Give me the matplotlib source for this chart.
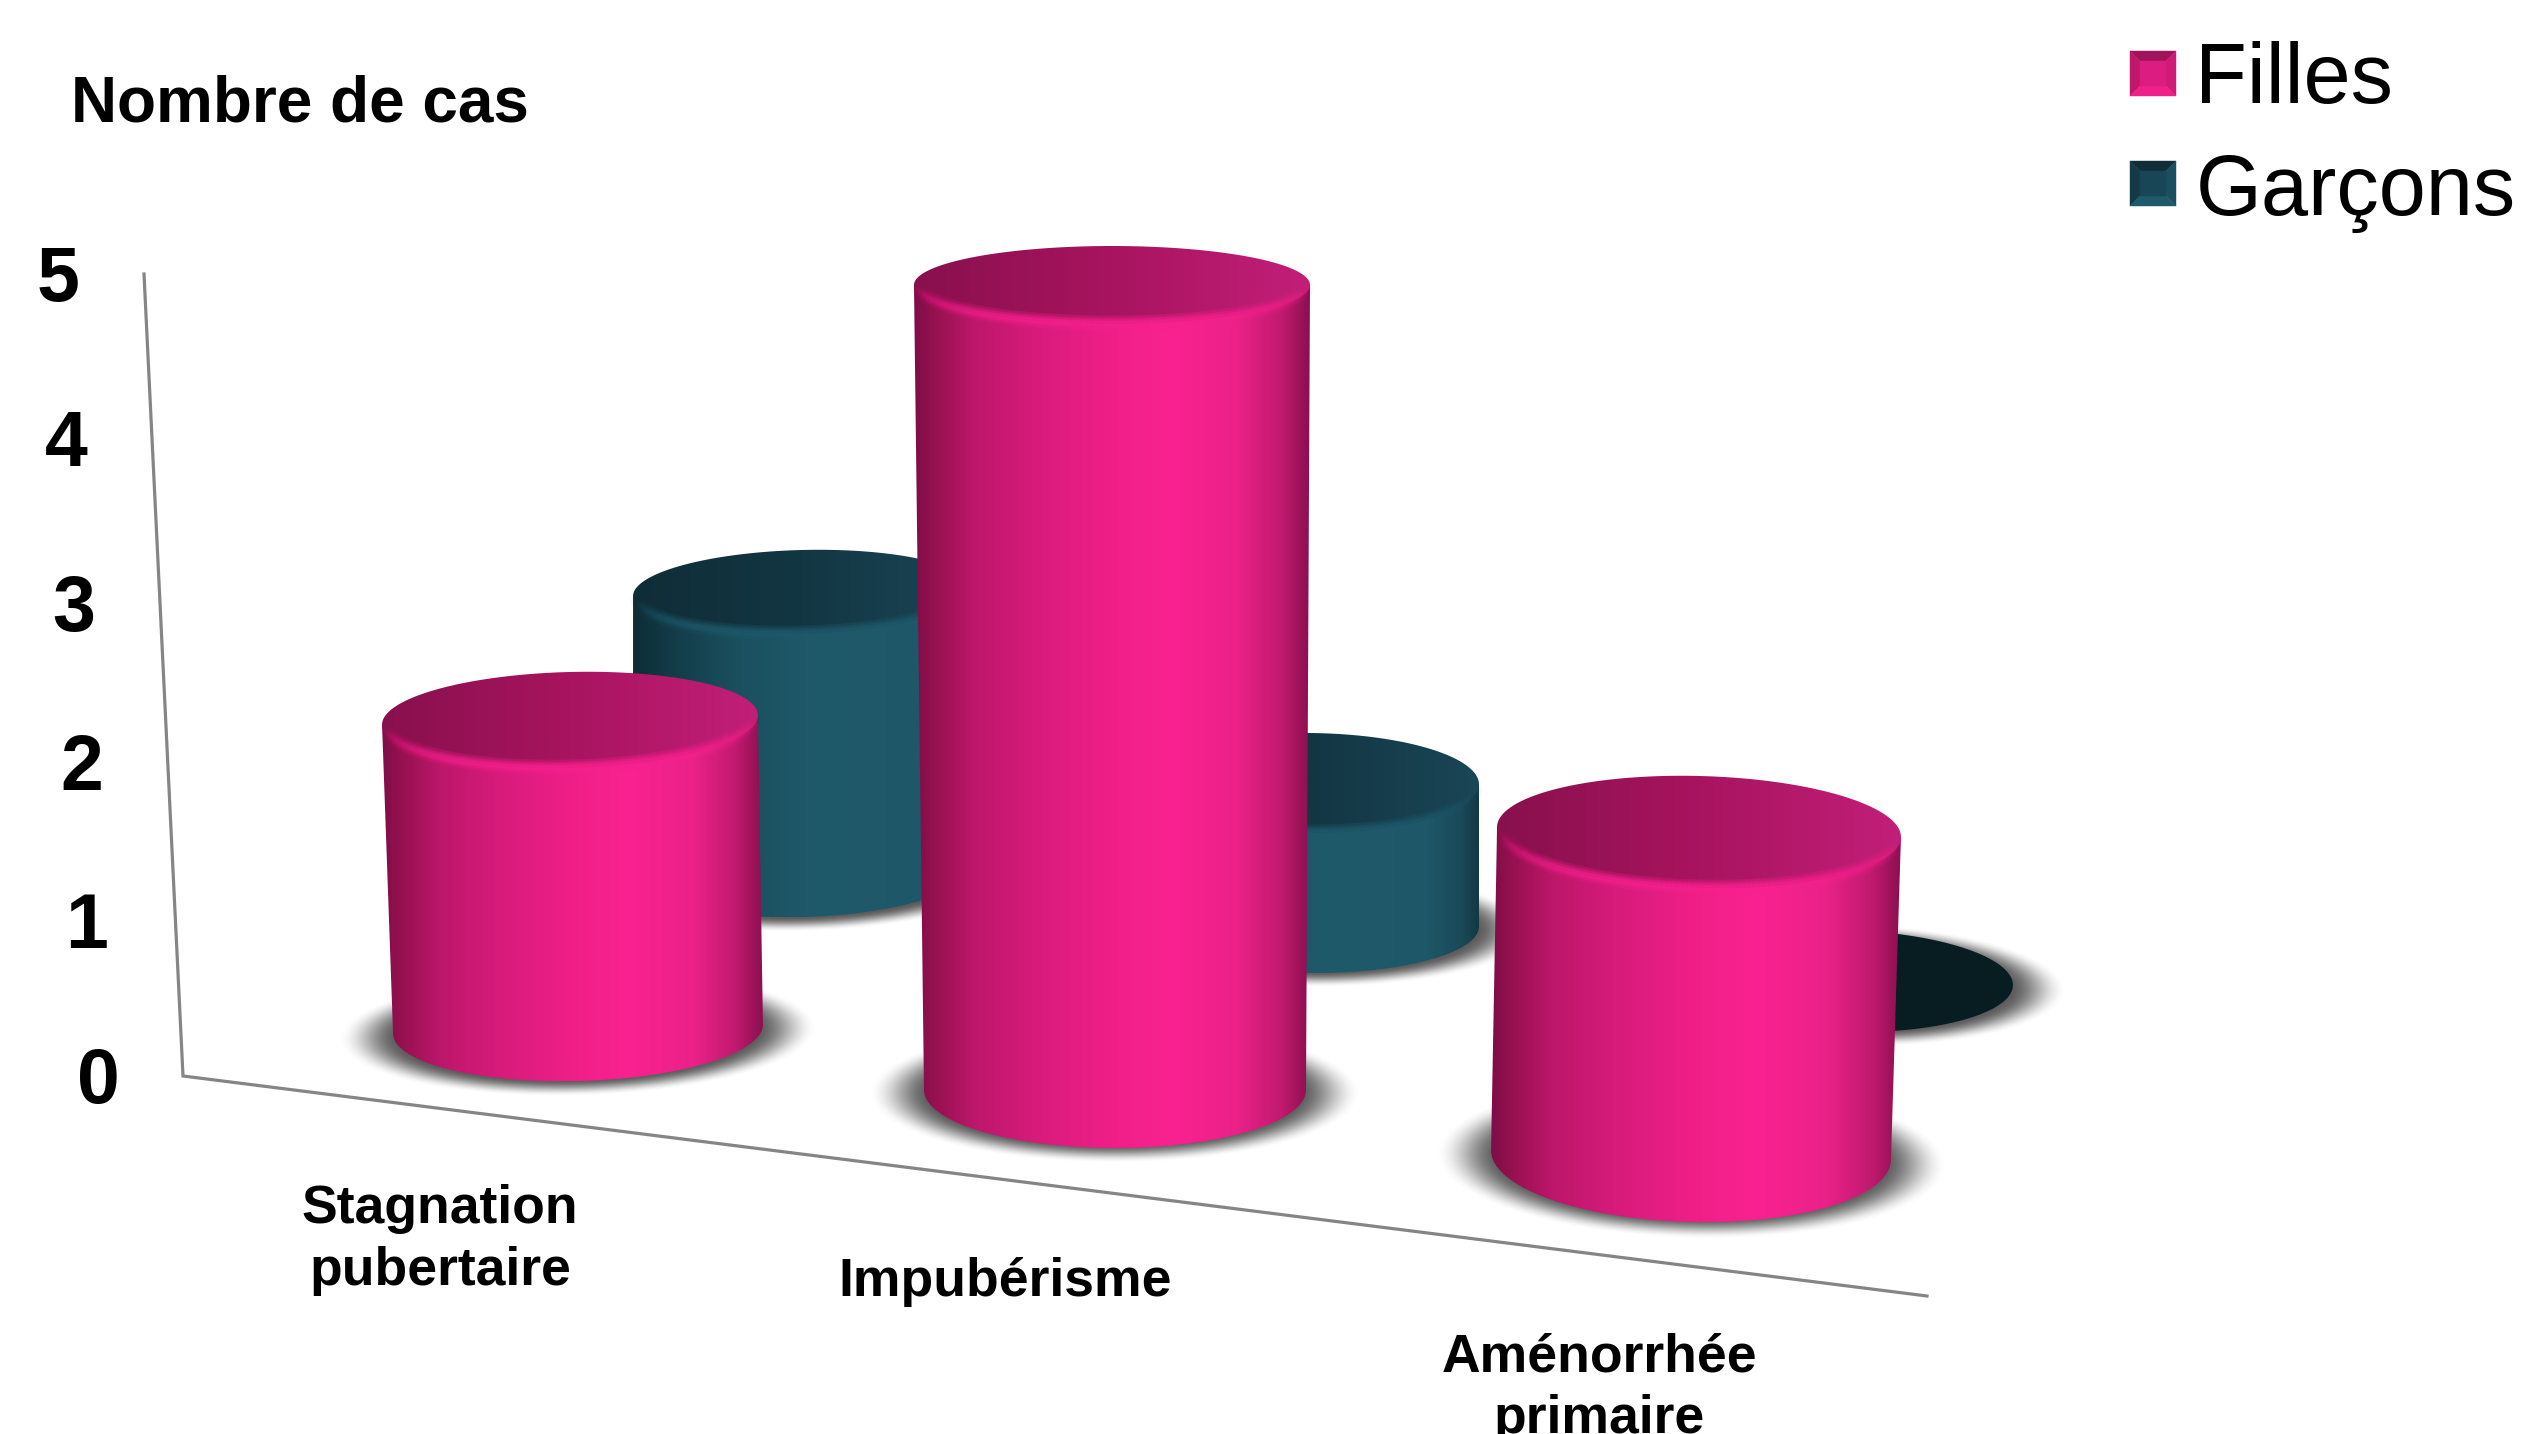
import numpy as np
import matplotlib
matplotlib.use("Agg")
import matplotlib.pyplot as plt
from matplotlib.collections import LineCollection
from matplotlib.colors import LinearSegmentedColormap
from matplotlib.patches import Polygon

plt.rcParams['font.family'] = ['Liberation Sans', 'DejaVu Sans']

categories = ["Stagnation\npubertaire", "Impubérisme", "Aménorrhée\nprimaire"]
filles = [2, 5, 2]
garcons = [2, 1, 0]
y_ticks = [0, 1, 2, 3, 4, 5]
series_names = ["Filles", "Garçons"]

# perspective layout of the floor, in pixels of the 2522x1434 canvas
filles_layout = dict(x=[578, 1115, 1691], y=[1029, 1090, 1155], rx=[185, 191, 200], ry=[52, 58, 67],
                     rx_top=[188, 198, 202], ry_top=[48, 39, 56], tilt=[-1.5, 0, 1.5],
                     unit=[154.5, 161, 161.5], lean=[-8, -3, 8])
garcons_layout = dict(x=[802, 1309, 1843], y=[870, 925, 981], rx=[169, 170, 170], ry=[47, 48, 51],
                      rx_top=[169, 170, 170], ry_top=[42, 50, 51], tilt=[-1.5, 0.5, 1.5],
                      unit=[139, 142, 139], lean=[0, 0, 3])

pink_body = LinearSegmentedColormap.from_list("pink_body", [
    (0, "#7e0d48"), (0.05, "#96114f"), (0.15, "#bc176a"), (0.3, "#d61b7a"), (0.5, "#f01f88"),
    (0.65, "#fa2290"), (0.82, "#ea2188"), (0.93, "#c01a6e"), (1, "#8c1050")])
pink_cap = LinearSegmentedColormap.from_list("pink_cap", ["#88104e", "#a8145f", "#c21f78"])
teal_body = LinearSegmentedColormap.from_list("teal_body", [
    (0, "#0e2c36"), (0.1, "#123a46"), (0.3, "#1a4f5e"), (0.55, "#1f5a6b"), (0.85, "#1e5768"),
    (0.95, "#194a58"), (1, "#123a44")])
teal_cap = LinearSegmentedColormap.from_list("teal_cap", ["#0f2d37", "#133643", "#1a4656"])

fig = plt.figure(figsize=(25.22, 14.34), dpi=100, facecolor="white")
ax = fig.add_axes([0, 0, 1, 1])
ax.axis("off")

z = [3]


def next_z():
    z[0] += 1
    return z[0]


def ellipse_pts(cx, cy, rx, ry, tilt, t):
    a = np.radians(tilt)
    x = cx + rx * np.cos(t) * np.cos(a) - ry * np.sin(t) * np.sin(a)
    y = cy + rx * np.cos(t) * np.sin(a) + ry * np.sin(t) * np.cos(a)
    return np.column_stack([x, y])


def gradient_fill(pts, cmap):
    # horizontal gradient cut to the outline
    grad = np.linspace(0, 1, 256).reshape(1, -1)
    zo = next_z()
    poly = Polygon(pts, closed=True, transform=ax.transData, facecolor="none", edgecolor="none")
    ax.add_patch(poly)
    im = ax.imshow(grad, cmap=cmap, aspect="auto", interpolation="bilinear", zorder=zo,
                   extent=(pts[:, 0].min(), pts[:, 0].max(), pts[:, 1].max(), pts[:, 1].min()))
    im.set_clip_path(poly)


def soft_shadow(cx, cy, rx, ry, tilt):
    xs = np.arange(cx - rx * 1.3, cx + rx * 1.3)
    ys = np.arange(cy - ry * 1.4, cy + ry * 1.4)
    xx, yy = np.meshgrid(xs, ys)
    a = np.radians(tilt)
    u = (xx - cx) * np.cos(a) + (yy - cy) * np.sin(a)
    v = -(xx - cx) * np.sin(a) + (yy - cy) * np.cos(a)
    d = np.sqrt((u / rx) ** 2 + (v / ry) ** 2)
    s = np.clip((1.09 - d) / 0.28, 0, 1)
    s = s * s * (3 - 2 * s)
    rgba = np.zeros(d.shape + (4,))
    rgba[..., :3] = 0.36
    rgba[..., 3] = s
    ax.imshow(rgba, aspect="auto", interpolation="bilinear", zorder=next_z(),
              extent=(xs[0], xs[-1], ys[-1], ys[0]))


def cylinder(value, cx, cy, rx, ry, rx_top, ry_top, tilt, unit, lean, body, cap, rim, flat):
    soft_shadow(cx, cy + 4, rx + 35, ry + 6, tilt)
    if value == 0:
        ax.add_patch(Polygon(ellipse_pts(cx, cy, rx, ry, tilt, np.linspace(0, 2 * np.pi, 200)),
                             facecolor=flat, edgecolor="none", zorder=next_z()))
        return
    top_x = cx + lean
    top_y = cy - value * unit
    t_front = np.linspace(np.pi, 0, 200)
    bottom_arc = ellipse_pts(cx, cy, rx, ry, tilt, t_front)
    left_top = ellipse_pts(top_x, top_y, rx_top, ry_top, tilt, np.array([np.pi]))
    right_top = ellipse_pts(top_x, top_y, rx_top, ry_top, tilt, np.array([0.0]))
    gradient_fill(np.vstack([left_top, bottom_arc, right_top]), body)
    gradient_fill(ellipse_pts(top_x, top_y, rx_top, ry_top, tilt, np.linspace(0, 2 * np.pi, 300)), cap)
    # lit bevel along the front of the top face, strongest in the middle
    t_rim = np.linspace(np.pi, 0, 120)
    rim_pts = ellipse_pts(top_x, top_y, rx_top - 3, ry_top - 1, tilt, t_rim)
    segs = np.stack([rim_pts[:-1], rim_pts[1:]], axis=1)
    fade = np.sin(t_rim[:-1]) ** 1.6
    for lw, strength in [(11, 0.14), (7, 0.22), (3.5, 0.4)]:
        colors = [matplotlib.colors.to_rgba(rim, strength * f) for f in fade]
        ax.add_collection(LineCollection(segs, colors=colors, linewidths=lw, zorder=next_z(),
                                         capstyle="round"))


# walls of the chart
wall_x = [144, 183, 1927]
wall_y = [274, 1076, 1296]
ax.plot(wall_x, wall_y, color="#858585", lw=2.3, solid_joinstyle="miter", zorder=2)

# back row first, the front row overlaps it
for i, v in enumerate(garcons):
    g = garcons_layout
    cylinder(v, g["x"][i], g["y"][i], g["rx"][i], g["ry"][i], g["rx_top"][i], g["ry_top"][i],
             g["tilt"][i], g["unit"][i], g["lean"][i], teal_body, teal_cap, "#1f5a6b", "#071d21")

for i, v in enumerate(filles):
    f = filles_layout
    cylinder(v, f["x"][i], f["y"][i], f["rx"][i], f["ry"][i], f["rx_top"][i], f["ry_top"][i],
             f["tilt"][i], f["unit"][i], f["lean"][i], pink_body, pink_cap, "#f7218e", "#000000")

# value labels follow the slanted wall
tick_x = [98, 87, 82, 74, 66, 58]
tick_y = [1075, 919, 761, 602, 438, 273]
for t, tx, ty in zip(y_ticks, tick_x, tick_y):
    ax.text(tx, ty, str(t), fontsize=55.5, fontweight="bold", ha="center", va="center_baseline",
            color="black", zorder=100)

ax.text(71, 121, "Nombre de cas", fontsize=46, fontweight="bold", ha="left", va="baseline", zorder=100)

cat_x = [440, 1005, 1599]
cat_base = [1223, 1296, 1371]
for name, cx, by in zip(categories, cat_x, cat_base):
    for k, line in enumerate(name.split("\n")):
        ax.text(cx, by + k * 62, line, fontsize=38.5, fontweight="bold", ha="center", va="baseline",
                zorder=100)


def bevel_square(x0, y0, x1, y1, shades):
    b = 10
    top, left, right, bottom, middle = shades
    faces = [
        ([(x0, y0), (x1, y0), (x1 - b, y0 + b), (x0 + b, y0 + b)], top),
        ([(x0, y0), (x0 + b, y0 + b), (x0 + b, y1 - b), (x0, y1)], left),
        ([(x1, y0), (x1, y1), (x1 - b, y1 - b), (x1 - b, y0 + b)], right),
        ([(x0, y1), (x0 + b, y1 - b), (x1 - b, y1 - b), (x1, y1)], bottom),
        ([(x0 + b, y0 + b), (x1 - b, y0 + b), (x1 - b, y1 - b), (x0 + b, y1 - b)], middle),
    ]
    for pts, c in faces:
        ax.add_patch(Polygon(pts, facecolor=c, edgecolor=c, lw=0.3, zorder=100))


bevel_square(2130, 51, 2176, 96, ["#a0145c", "#c01869", "#d01a78", "#f0208a", "#dc1c80"])
bevel_square(2130, 161, 2176, 206, ["#0f2e38", "#133a46", "#1b4f5f", "#1f5a6c", "#194656"])
ax.text(2195, 103, series_names[0], fontsize=61, ha="left", va="baseline", zorder=100)
ax.text(2196, 215, series_names[1], fontsize=61, ha="left", va="baseline", zorder=100)

ax.set_xlim(0, 2522)
ax.set_ylim(1434, 0)
fig.savefig("out.png", dpi=100, facecolor="white")
